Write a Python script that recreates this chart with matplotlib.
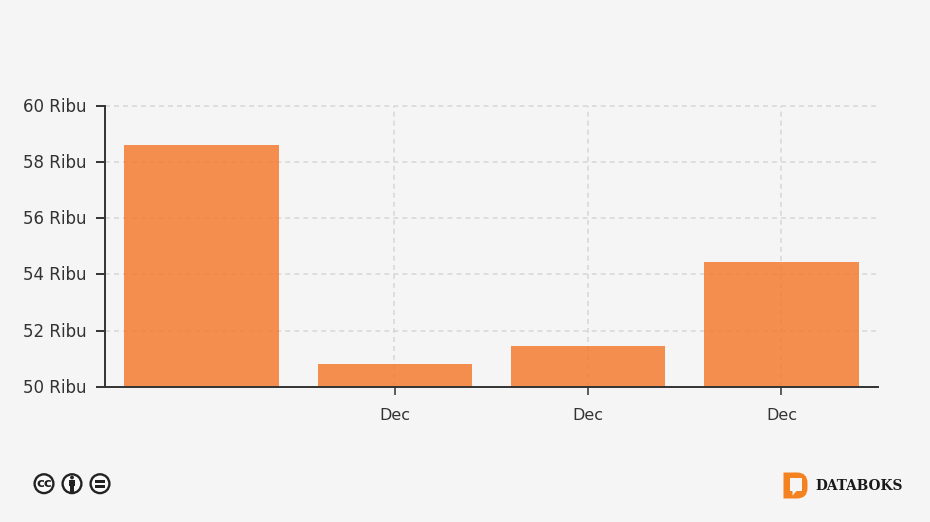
"""
Bar chart in the Databoks style, with licence icons and logo in the footer.
"""
import matplotlib
matplotlib.use("Agg")
import matplotlib.pyplot as plt
from matplotlib.patches import Circle, PathPatch, Polygon, Rectangle
from matplotlib.path import Path
from matplotlib.transforms import ScaledTranslation

# Data
categories = ["", "Dec", "Dec", "Dec"]
values = [58.61, 50.82, 51.46, 54.46]
y_ticks = [50, 52, 54, 56, 58, 60]
y_labels = ["50 Ribu", "52 Ribu", "54 Ribu", "56 Ribu", "58 Ribu", "60 Ribu"]

BG = "#f5f5f5"
DARK = "#333333"
GRID = "#d6d6d6"
ORANGE = "#f37a2f"

W, H = 930, 522
plt.rcParams["font.family"] = ["DejaVu Sans"]

fig = plt.figure(figsize=(W / 100, H / 100), dpi=100, facecolor=BG)

# plot area in pixels: x 105-878, y 106-386.7
ax = fig.add_axes([105 / W, 1 - 386.7 / H, 773 / W, 280.7 / H], facecolor=BG)
x = list(range(len(values)))
ax.set_xlim(-0.5, 3.5)
ax.set_ylim(50, 60)

for t in y_ticks:
    ax.plot([-0.5, 3.49], [t, t], color=GRID, lw=1.1, dashes=(3.2, 2.7), zorder=1, clip_on=False)
for i in x[1:]:
    ax.plot([i - 0.002, i - 0.002], [50, 60], color=GRID, lw=1.1, dashes=(3.2, 2.7), zorder=1)

ax.bar(x, values, width=0.8, color=ORANGE, alpha=0.84, linewidth=0, zorder=2)

for side in ["top", "right"]:
    ax.spines[side].set_visible(False)
for side in ["left", "bottom"]:
    ax.spines[side].set_color(DARK)
    ax.spines[side].set_linewidth(1.4)
    ax.spines[side].set_zorder(3)

ax.set_yticks(y_ticks)
ax.set_yticklabels(y_labels)
ax.set_xticks(x[1:])
ax.set_xticklabels(categories[1:])
ax.tick_params(axis="y", length=6.5, width=1.4, color=DARK, pad=7, labelsize=12, labelcolor="#333333")
ax.tick_params(axis="x", length=5.5, width=1.1, color=DARK, pad=9.5, labelsize=11.5, labelcolor="#333333")

# y labels sit a pixel higher than the ticks
for label in ax.get_yticklabels():
    label.set_transform(label.get_transform() + ScaledTranslation(0, 1 / 100, fig.dpi_scale_trans))

# footer, in pixel coordinates
foot = fig.add_axes([0, 0, 1, 1], facecolor="none")
foot.set_xlim(0, W)
foot.set_ylim(H, 0)
foot.axis("off")

ICON = "#222222"
for cx in [44, 72, 100]:
    foot.add_patch(Circle((cx, 483.7), 9.4, fc="#fafafa", ec=ICON, lw=1.7))

foot.text(44, 483.5, "cc", fontsize=9.5, fontweight="bold", color=ICON, ha="center", va="center")

# person icon
foot.add_patch(Circle((72, 477.5), 1.9, fc=ICON, ec="none"))
foot.add_patch(Rectangle((69, 480), 6, 5.5, fc=ICON, ec="none"))
foot.add_patch(Rectangle((70.2, 485), 3.6, 6.5, fc=ICON, ec="none"))

# equals icon
foot.add_patch(Rectangle((95, 480.2), 10, 2.5, fc=ICON, ec="none"))
foot.add_patch(Rectangle((95, 485), 10, 2.5, fc=ICON, ec="none"))

# logo
verts = [(783.5, 472.5), (797, 472.5), (807.5, 472.5), (807.5, 483),
         (807.5, 488), (807.5, 498.5), (797, 498.5), (783.5, 498.5), (783.5, 472.5)]
codes = [Path.MOVETO, Path.LINETO, Path.CURVE3, Path.CURVE3,
         Path.LINETO, Path.CURVE3, Path.CURVE3, Path.LINETO, Path.CLOSEPOLY]
foot.add_patch(PathPatch(Path(verts, codes), fc="#f58220", ec="none"))
foot.add_patch(Rectangle((789.5, 478), 12, 13, fc=BG, ec="none"))
foot.add_patch(Polygon([(792.5, 491), (796.5, 491), (792.5, 495.5)], fc=BG, ec="none"))

foot.text(815, 485.5, "DATABOKS", family="DejaVu Serif", fontsize=9.9, fontweight="bold",
          color="#1a1a1a", ha="left", va="center")

fig.savefig("out.png", dpi=100, facecolor=BG)
